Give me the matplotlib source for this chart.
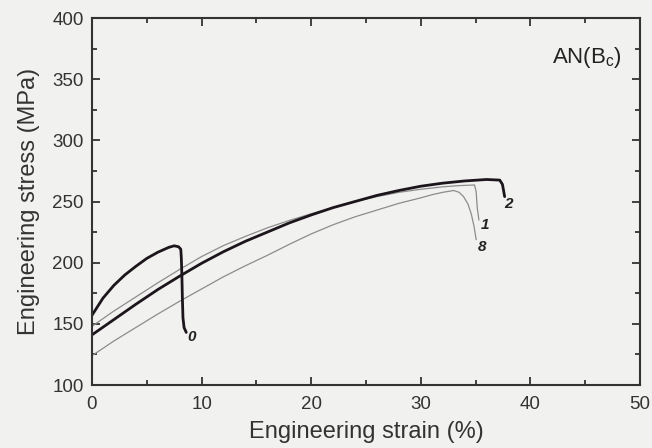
import numpy as np
import matplotlib.pyplot as plt
from matplotlib.ticker import MultipleLocator

plt.rcParams['font.family'] = ['Liberation Sans', 'DejaVu Sans']

# stress-strain curves, strain in %, stress in MPa
strain_0 = [0, 0.5, 1, 2, 3, 4, 5, 6, 7, 7.5, 7.9, 8.1, 8.15, 8.2, 8.25, 8.3, 8.4, 8.6]
stress_0 = [157, 164, 171, 181.5, 190, 197, 203.5, 208.5, 212.5, 213.8, 213, 211, 204, 190, 170, 155, 147, 143]

strain_1 = [0, 2, 4, 6, 8, 10, 12, 14, 16, 18, 20, 22, 24, 26, 28, 30, 32, 33.5, 34.9, 35.05, 35.15, 35.3]
stress_1 = [148, 160.5, 172, 183.5, 194.5, 205, 214, 221.5, 228.5, 234.5, 240, 245, 250, 254, 257.5,
            260, 262, 263, 263.5, 258, 245, 235]

strain_2 = [0, 2, 4, 6, 8, 10, 12, 14, 16, 18, 20, 22, 24, 26, 28, 30, 32, 34, 36, 37.2, 37.45, 37.55, 37.65]
stress_2 = [141, 153.5, 166, 178, 189, 199.5, 209, 217.5, 225, 232.5, 239, 245, 250, 255, 259, 262.5,
            265, 266.8, 268, 267.5, 264, 259, 254]

strain_8 = [0, 2, 4, 6, 8, 10, 12, 14, 16, 18, 20, 22, 24, 26, 28, 30, 31, 32, 33, 33.5, 33.9, 34.3,
            34.6, 34.85, 35.05]
stress_8 = [124, 136, 147, 158, 168.5, 178.5, 188.5, 197.5, 206, 215, 223.5, 231, 237.5, 243, 248.5,
            253, 255.5, 257.5, 259, 257.5, 254, 248, 240, 230, 219]

labels = ['0', '1', '2', '8']
label_pos = [(9.1, 139.5), (35.85, 231), (38.0, 248), (35.55, 212.5)]

bg = '#f1f1ef'
fig = plt.figure(figsize=(6.52, 4.48), dpi=100, facecolor=bg)
ax = fig.add_axes([0.1411, 0.1406, 0.8405, 0.8192], facecolor=bg)

thick = dict(color='#1c161c', lw=2.0, solid_capstyle='round', solid_joinstyle='round')
thin = dict(color='#8c8c8c', lw=0.9, solid_joinstyle='round')
ax.plot(strain_8, stress_8, **thin)
ax.plot(strain_1, stress_1, **thin)
ax.plot(strain_2, stress_2, **thick)
ax.plot(strain_0, stress_0, **thick)

for lab, (lx, ly) in zip(labels, label_pos):
    ax.text(lx, ly, lab, fontsize=11, fontweight='bold', fontstyle='italic',
            color='#222', ha='center', va='center')

ax.text(0.967, 0.892, r'AN(B$_\mathregular{c}$)', transform=ax.transAxes,
        fontsize=16, ha='right', va='center', color='#222')

ax.set_xlim(0, 50)
ax.set_ylim(100, 400)
ax.xaxis.set_major_locator(MultipleLocator(10))
ax.xaxis.set_minor_locator(MultipleLocator(5))
ax.yaxis.set_major_locator(MultipleLocator(50))
ax.yaxis.set_minor_locator(MultipleLocator(25))
ax.tick_params(which='both', direction='in', top=True, right=True,
               width=1.3, color='#333', labelsize=13.5, labelcolor='#333')
ax.tick_params(which='major', length=6)
ax.tick_params(which='minor', length=3.5)
ax.tick_params(axis='x', pad=8)
ax.tick_params(axis='y', pad=6)
for s in ax.spines.values():
    s.set_linewidth(1.5)
    s.set_color('#333')

ax.set_xlabel('Engineering strain (%)', fontsize=17, color='#333', labelpad=6)
ax.set_ylabel('Engineering stress (MPa)', fontsize=17, color='#333', labelpad=9)

fig.savefig('out.png', dpi=100, facecolor=bg)
